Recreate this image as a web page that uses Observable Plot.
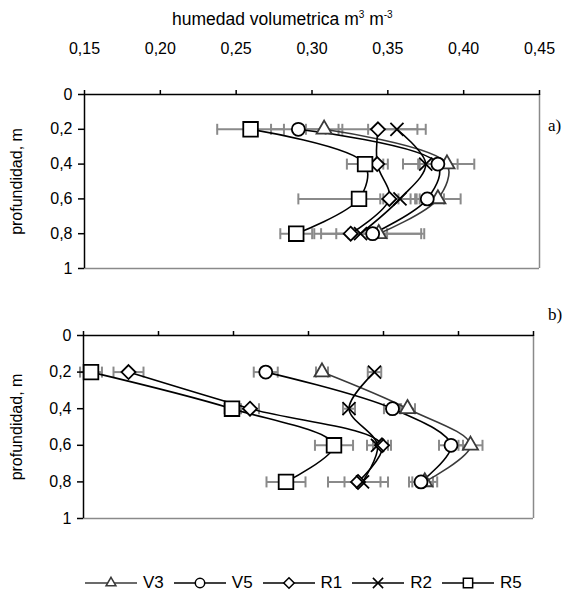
<!DOCTYPE html>
<html><head><meta charset="utf-8">
<script src="https://cdn.jsdelivr.net/npm/d3@7"></script>
<script src="https://cdn.jsdelivr.net/npm/@observablehq/plot@0.6"></script>
<style>
body{margin:0;background:#fff;font-family:"Liberation Sans",Arial,sans-serif;color:#000;}
#wrap{position:relative;width:564px;height:594px;overflow:hidden;background:#fff;}
.abs{position:absolute;}
.title{top:9px;left:172px;white-space:nowrap;font-size:17.5px;}
.title sup{font-size:10px;}
.tag{font-family:"Liberation Serif","Times New Roman",serif;font-size:17px;}
#legend{top:573px;left:84px;display:flex;align-items:center;font-size:17px;}
#legend .it{display:flex;align-items:center;margin-right:9px;}
#legend svg{margin-right:5px;}
</style></head><body><div id="wrap">
<div class="abs title">humedad volumetrica m<sup>3</sup> m<sup>-3</sup></div>
<div class="abs tag" style="left:548px;top:116px;">a)</div>
<div class="abs tag" style="left:548px;top:305px;">b)</div>
<div class="abs" id="legend"></div>
</div>
<script>
// ---- data ----
const depths = [0.2, 0.4, 0.6, 0.8];
const seriesNames = ["V3", "V5", "R1", "R2", "R5"];
const xTicks = [0.15, 0.20, 0.25, 0.30, 0.35, 0.40, 0.45];
const yTicks = [0, 0.2, 0.4, 0.6, 0.8, 1];

// panel a) values and error half-widths
const aV3 = [0.308, 0.389, 0.383, 0.344];
const aV5 = [0.291, 0.383, 0.376, 0.340];
const aR1 = [0.3435, 0.343, 0.351, 0.3255];
const aR2 = [0.356, 0.375, 0.358, 0.332];
const aR5 = [0.2595, 0.335, 0.331, 0.2896];
const aV3err = [0.012, 0.018, 0.015, 0.028];
const aV5err = [0.018, 0.013, 0.011, 0.034];
const aR1err = [0.026, 0.007, 0.006, 0.024];
const aR2err = [0.019, 0.015, 0.011, 0.008];
const aR5err = [0.022, 0.012, 0.040, 0.0105];

// panel b) values and error half-widths
const bV3 = [0.309, 0.366, 0.408, 0.3775];
const bV5 = [0.2715, 0.356, 0.395, 0.375];
const bR1 = [0.180, 0.261, 0.349, 0.333];
const bR2 = [0.344, 0.327, 0.346, 0.336];
const bR5 = [0.155, 0.249, 0.317, 0.285];
const bV3err = [0.004, 0.005, 0.008, 0.0083];
const bV5err = [0.008, 0.0057, 0.008, 0.008];
const bR1err = [0.010, 0.006, 0.006, 0.020];
const bR2err = [0.0045, 0.004, 0.007, 0.012];
const bR5err = [0.0073, 0.005, 0.0127, 0.013];

// ---- styles ----
const style = {
  V3: {symbol: "triangle2", r: 7.2, stroke: "#3a3a3a"},
  V5: {symbol: "circle", r: 6.5, stroke: "#000"},
  R1: {symbol: "diamond2", r: 6.3, stroke: "#000"},
  R2: {symbol: "times", r: 6, stroke: "#000"},
  R5: {symbol: "square2", r: 9.3, stroke: "#000"}
};
const capSymbol = {draw(ctx) { ctx.moveTo(0, -5.5); ctx.lineTo(0, 5.5); }};
const fmtX = d => d.toFixed(2).replace(".", ",");
const fmtY = d => (d === 0 || d === 1) ? String(d) : String(d).replace(".", ",");

function rowsOf(vals, errs) {
  const rows = [];
  seriesNames.forEach((s, i) => depths.forEach((d, j) =>
    rows.push({s, depth: d, v: vals[i][j], e: errs[i][j]})));
  return rows;
}

function panel(rows, o) {
  const marks = [];
  // error bars
  marks.push(Plot.ruleY(rows, {y: "depth", x1: d => d.v - d.e, x2: d => d.v + d.e, stroke: "#8a8a8a", strokeWidth: 2}));
  marks.push(Plot.dot(rows, {x: d => d.v - d.e, y: "depth", symbol: capSymbol, r: 5, stroke: "#8a8a8a", strokeWidth: 2, fill: "none"}));
  marks.push(Plot.dot(rows, {x: d => d.v + d.e, y: "depth", symbol: capSymbol, r: 5, stroke: "#8a8a8a", strokeWidth: 2, fill: "none"}));
  // frame
  marks.push(Plot.ruleX([0.45], {stroke: "#8a8a8a", strokeWidth: 1.5}));
  marks.push(Plot.ruleY([1], {stroke: "#8a8a8a", strokeWidth: 1.5}));
  marks.push(Plot.ruleX([0.15], {stroke: "#000", strokeWidth: 1.5}));
  marks.push(Plot.ruleY([0], {stroke: "#000", strokeWidth: 1.5}));
  // lines
  seriesNames.forEach(s => {
    marks.push(Plot.line(rows.filter(r => r.s === s), {x: "v", y: "depth", sort: "depth", curve: "catmull-rom", stroke: style[s].stroke, strokeWidth: 1.6}));
  });
  // markers
  seriesNames.forEach(s => {
    const st = style[s];
    marks.push(Plot.dot(rows.filter(r => r.s === s), {x: "v", y: "depth", symbol: st.symbol, r: st.r, stroke: st.stroke, fill: s === "R2" ? "none" : "#fff", strokeWidth: 1.8}));
  });
  // axes
  marks.push(Plot.axisX({anchor: "top", ticks: xTicks, tickSize: 5, tickPadding: o.topLabels ? 36 : 0, tickFormat: o.topLabels ? fmtX : () => "", label: null, strokeWidth: 1.5}));
  marks.push(Plot.axisY({anchor: "left", ticks: yTicks, tickSize: 6, tickPadding: 6, tickFormat: fmtY, label: "profundidad, m", labelArrow: "none", labelAnchor: "center", labelOffset: o.labelOffset, strokeWidth: 1.5}));
  const svg = Plot.plot({
    width: 564, height: o.height,
    marginTop: o.mt, marginBottom: o.mb, marginLeft: o.ml, marginRight: o.mr,
    x: {domain: [0.15, 0.45]},
    y: {domain: [0, 1], reverse: true},
    style: {fontFamily: "'Liberation Sans', Arial, sans-serif", fontSize: "16px", color: "#000", background: "transparent", overflow: "visible"},
    marks
  });
  // strip any direction arrow that an older Plot may add to the label
  svg.querySelectorAll("text").forEach(t => {
    if (/profundidad/.test(t.textContent)) t.textContent = "profundidad, m";
  });
  return svg;
}

const wrap = document.getElementById("wrap");
const A = panel(rowsOf([aV3, aV5, aR1, aR2, aR5], [aV3err, aV5err, aR1err, aR2err, aR5err]),
  {height: 280, mt: 94, mb: 12, ml: 84, mr: 25, topLabels: true, labelOffset: 74});
A.style.position = "absolute"; A.style.left = "0px"; A.style.top = "0px";
wrap.appendChild(A);

const B = panel(rowsOf([bV3, bV5, bR1, bR2, bR5], [bV3err, bV5err, bR1err, bR2err, bR5err]),
  {height: 230, mt: 35, mb: 12, ml: 83, mr: 31, topLabels: false, labelOffset: 73});
B.style.position = "absolute"; B.style.left = "0px"; B.style.top = "300px";
wrap.appendChild(B);

// legend
const legendSym = {V3: d3.symbolTriangle2, V5: d3.symbolCircle, R1: d3.symbolDiamond2, R2: d3.symbolTimes, R5: d3.symbolSquare2};
const leg = d3.select("#legend");
seriesNames.forEach(s => {
  const it = leg.append("div").attr("class", "it");
  const sv = it.append("svg").attr("width", 54).attr("height", 16);
  sv.append("line").attr("x1", 1).attr("x2", 53).attr("y1", 8).attr("y2", 8).attr("stroke", style[s].stroke).attr("stroke-width", 1.5);
  sv.append("path").attr("transform", "translate(27,8)").attr("d", d3.symbol(legendSym[s], s === "R5" ? 110 : 70)())
    .attr("fill", "#fff").attr("stroke", style[s].stroke).attr("stroke-width", 1.5);
  it.append("span").text(s);
});
</script>
</body></html>
